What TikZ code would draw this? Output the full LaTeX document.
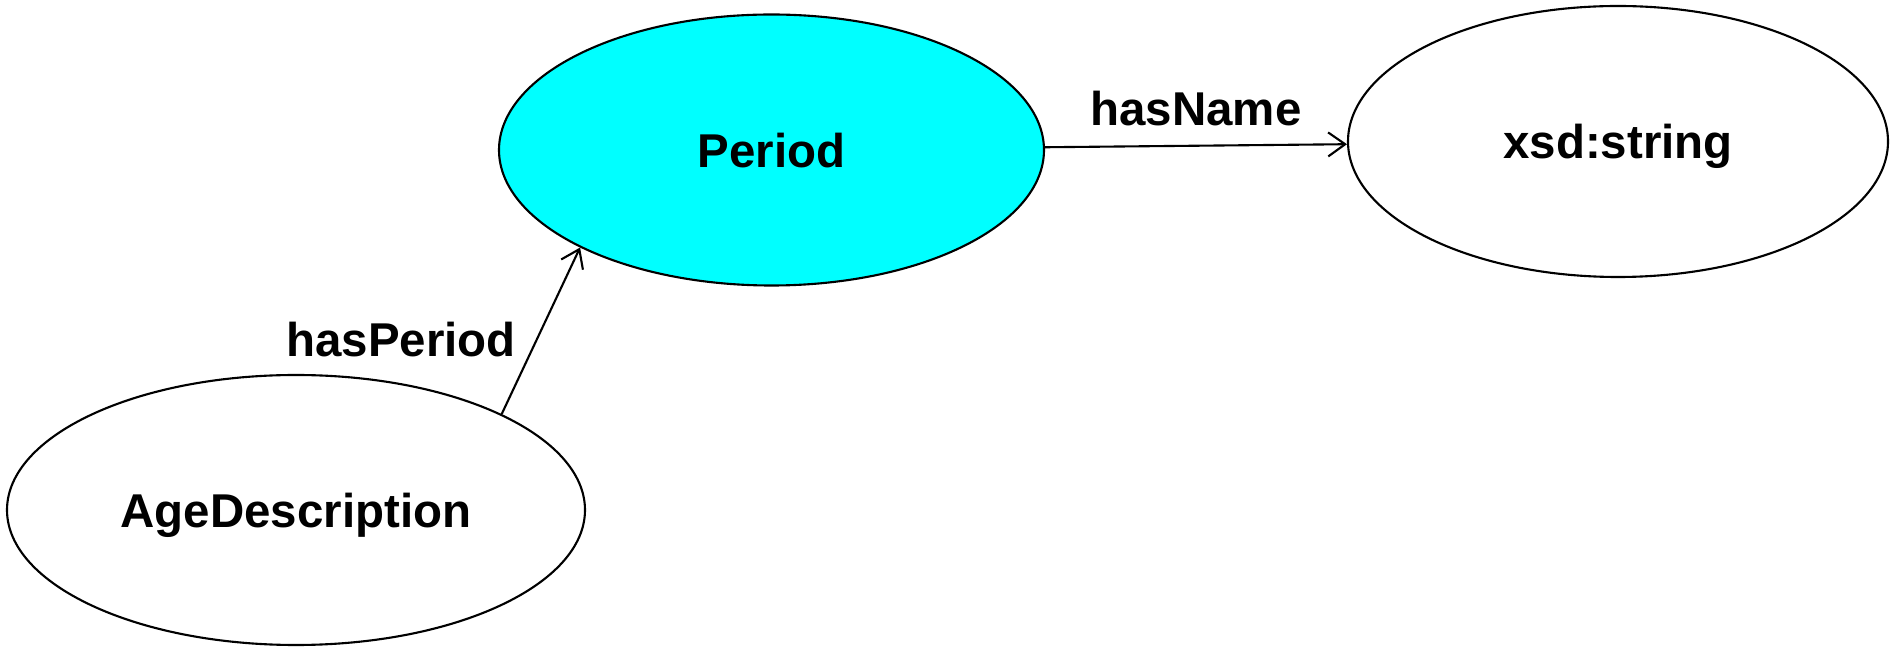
\documentclass[tikz,border=0pt]{standalone}
\usepackage{fontspec}
\setmainfont{Liberation Sans}
\usetikzlibrary{shapes.geometric,arrows.meta}
\definecolor{ciano}{RGB}{0,255,255}
\tikzset{
  classe/.style={ellipse, draw, line width=0.6pt, inner sep=0pt, text depth=0pt,
    font=\fontsize{13.5}{16}\selectfont\bfseries},
  rotulo/.style={inner sep=0pt, font=\fontsize{13.5}{16}\selectfont\bfseries},
  seta/.style={line width=0.6pt, -{Straight Barb[length=1.7mm,width=2.4mm]}}
}
\begin{document}
\begin{tikzpicture}
    \useasboundingbox (0,0) rectangle (18.9,-6.47);

    % Classes
    \node[classe, fill=ciano, minimum width=5.45cm, minimum height=2.71cm] (period) at (7.715,-1.50) {Period};
    \node[classe, minimum width=5.40cm, minimum height=2.71cm] (xsd) at (16.18,-1.415) {xsd:string};
    \node[classe, minimum width=5.78cm, minimum height=2.70cm] (age) at (2.96,-5.10) {AgeDescription};

    % Propriedades
    \draw[seta] (period) -- node[rotulo, above=0.19cm] {hasName} (xsd);
    \draw[seta] (age.25) -- node[rotulo, pos=0.45, left=0.2cm] {hasPeriod} (period.207);
\end{tikzpicture}
\end{document}
